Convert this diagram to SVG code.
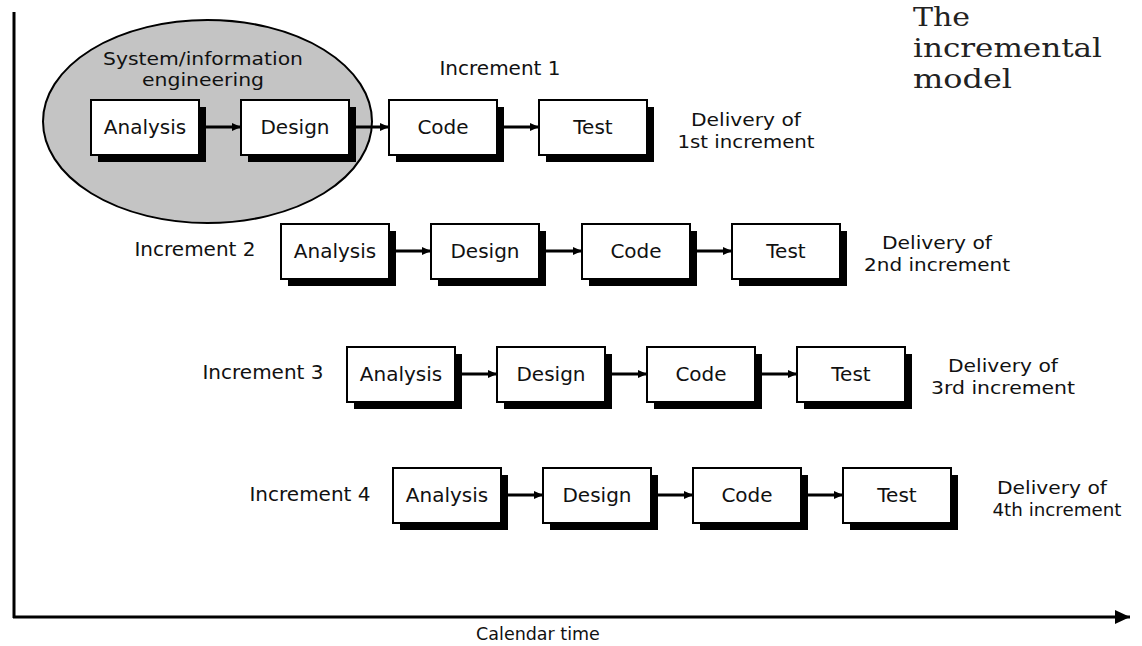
<svg xmlns="http://www.w3.org/2000/svg" width="1142" height="646" viewBox="0 0 1142 646">
<style>
.t{font-family:"DejaVu Sans",sans-serif;font-size:20px;fill:#111}
.s{font-size:18px}
.c{text-anchor:middle}
.box{fill:#fff;stroke:#000;stroke-width:2}
.sh{fill:#000}
.ln{stroke:#000;stroke-width:3;fill:none}
.serif{font-family:"DejaVu Serif",serif;font-size:26px;fill:#222}
</style>
<defs>
<marker id="ah" markerUnits="userSpaceOnUse" markerWidth="10" markerHeight="8" refX="9" refY="4" orient="auto">
<path d="M0,0 L9,4 L0,8 z" fill="#000"/>
</marker>
<marker id="big" markerUnits="userSpaceOnUse" markerWidth="16" markerHeight="14" refX="15" refY="7" orient="auto">
<path d="M0,0 L15,7 L0,14 z" fill="#000"/>
</marker>
<g id="b">
<rect class="sh" x="7" y="7" width="108" height="55"/>
<rect class="box" x="0" y="0" width="108" height="55"/>
</g>
</defs>
<rect width="1142" height="646" fill="#fff"/>

<g id="title">
<text class="serif" x="913" y="26" textLength="57" lengthAdjust="spacingAndGlyphs">The</text>
<text class="serif" x="913" y="57" textLength="189" lengthAdjust="spacingAndGlyphs">incremental</text>
<text class="serif" x="913" y="88" textLength="99" lengthAdjust="spacingAndGlyphs">model</text>
</g>

<g id="sysinfo">
<ellipse cx="207.5" cy="121.5" rx="164.5" ry="101.5" fill="#c4c4c4" stroke="#000" stroke-width="2"/>
<text class="t s c" x="203" y="65" textLength="200" lengthAdjust="spacingAndGlyphs">System/information</text>
<text class="t s c" x="203" y="86" textLength="122" lengthAdjust="spacingAndGlyphs">engineering</text>
</g>

<g id="axes">
<line class="ln" x1="14" y1="12" x2="14" y2="618"/>
<line class="ln" x1="13" y1="617" x2="1130" y2="617" marker-end="url(#big)"/>
<text class="t c" x="538" y="640" style="font-size:17.5px">Calendar time</text>
</g>

<g id="connectors">
<line class="ln" x1="203" y1="127" x2="241" y2="127" marker-end="url(#ah)"/>
<line class="ln" x1="355" y1="127" x2="389" y2="127" marker-end="url(#ah)"/>
<line class="ln" x1="503" y1="127" x2="539" y2="127" marker-end="url(#ah)"/>

<line class="ln" x1="396" y1="251" x2="431" y2="251" marker-end="url(#ah)"/>
<line class="ln" x1="546" y1="251" x2="582" y2="251" marker-end="url(#ah)"/>
<line class="ln" x1="697" y1="251" x2="732" y2="251" marker-end="url(#ah)"/>

<line class="ln" x1="462" y1="374" x2="497" y2="374" marker-end="url(#ah)"/>
<line class="ln" x1="612" y1="374" x2="647" y2="374" marker-end="url(#ah)"/>
<line class="ln" x1="762" y1="374" x2="797" y2="374" marker-end="url(#ah)"/>

<line class="ln" x1="508" y1="495" x2="543" y2="495" marker-end="url(#ah)"/>
<line class="ln" x1="658" y1="495" x2="693" y2="495" marker-end="url(#ah)"/>
<line class="ln" x1="808" y1="495" x2="843" y2="495" marker-end="url(#ah)"/>
</g>

<!-- Increment 1 -->
<g id="inc1">
<text class="t c" x="500" y="75">Increment 1</text>
<text class="t s c" x="746" y="126" textLength="110" lengthAdjust="spacingAndGlyphs">Delivery of</text>
<text class="t s c" x="746" y="148" textLength="137" lengthAdjust="spacingAndGlyphs">1st increment</text>
</g>
<g id="inc1-analysis"><use href="#b" x="91" y="100"/><text class="t c" x="145" y="134">Analysis</text></g>
<g id="inc1-design"><use href="#b" x="241" y="100"/><text class="t c" x="295" y="134">Design</text></g>
<g id="inc1-code"><use href="#b" x="389" y="100"/><text class="t c" x="443" y="134">Code</text></g>
<g id="inc1-test"><use href="#b" x="539" y="100"/><text class="t c" x="593" y="134">Test</text></g>

<!-- Increment 2 -->
<g id="inc2">
<text class="t c" x="195" y="256">Increment 2</text>
<text class="t s c" x="937" y="249" textLength="110" lengthAdjust="spacingAndGlyphs">Delivery of</text>
<text class="t s c" x="937" y="271" textLength="146" lengthAdjust="spacingAndGlyphs">2nd increment</text>
</g>
<g id="inc2-analysis"><use href="#b" x="281" y="224"/><text class="t c" x="335" y="258">Analysis</text></g>
<g id="inc2-design"><use href="#b" x="431" y="224"/><text class="t c" x="485" y="258">Design</text></g>
<g id="inc2-code"><use href="#b" x="582" y="224"/><text class="t c" x="636" y="258">Code</text></g>
<g id="inc2-test"><use href="#b" x="732" y="224"/><text class="t c" x="786" y="258">Test</text></g>

<!-- Increment 3 -->
<g id="inc3">
<text class="t c" x="263" y="379">Increment 3</text>
<text class="t s c" x="1003" y="372" textLength="110" lengthAdjust="spacingAndGlyphs">Delivery of</text>
<text class="t s c" x="1003" y="394" textLength="144" lengthAdjust="spacingAndGlyphs">3rd increment</text>
</g>
<g id="inc3-analysis"><use href="#b" x="347" y="347"/><text class="t c" x="401" y="381">Analysis</text></g>
<g id="inc3-design"><use href="#b" x="497" y="347"/><text class="t c" x="551" y="381">Design</text></g>
<g id="inc3-code"><use href="#b" x="647" y="347"/><text class="t c" x="701" y="381">Code</text></g>
<g id="inc3-test"><use href="#b" x="797" y="347"/><text class="t c" x="851" y="381">Test</text></g>

<!-- Increment 4 -->
<g id="inc4">
<text class="t c" x="310" y="501">Increment 4</text>
<text class="t s c" x="1052" y="494" textLength="110" lengthAdjust="spacingAndGlyphs">Delivery of</text>
<text class="t s c" x="1057" y="516" textLength="129" lengthAdjust="spacingAndGlyphs">4th increment</text>
</g>
<g id="inc4-analysis"><use href="#b" x="393" y="468"/><text class="t c" x="447" y="502">Analysis</text></g>
<g id="inc4-design"><use href="#b" x="543" y="468"/><text class="t c" x="597" y="502">Design</text></g>
<g id="inc4-code"><use href="#b" x="693" y="468"/><text class="t c" x="747" y="502">Code</text></g>
<g id="inc4-test"><use href="#b" x="843" y="468"/><text class="t c" x="897" y="502">Test</text></g>
</svg>
